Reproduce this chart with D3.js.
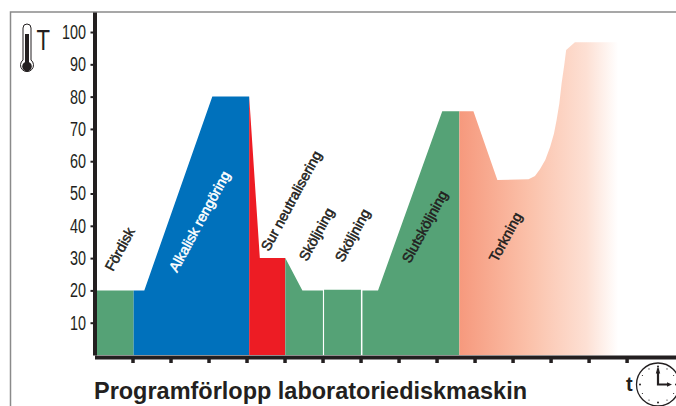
<!DOCTYPE html>
<html>
<head>
<meta charset="utf-8">
<script src="https://cdn.jsdelivr.net/npm/d3@7"></script>
<style>
  html, body { margin: 0; padding: 0; background: #fff; overflow: hidden; }
  svg { display: block; }
  .phase_label { font-family: "Liberation Sans", sans-serif; font-size: 14.2px; font-weight: 400; stroke-width: 0.5px; }
  .tick_label text { font-family: "Liberation Sans", sans-serif; font-size: 20px; fill: #231f20; }
</style>
</head>
<body>
<svg id="chart_svg" width="676" height="406"></svg>
<script>
// time in program ticks, temperature in degrees
const fordisk_t = [0, 1.03];
const fordisk_v = [20, 20];
const alkalisk_t = [1.03, 1.31, 3.1, 4.07];
const alkalisk_v = [20, 20, 80, 80];
const sur_t = [4.07, 4.35, 5.02];
const sur_v = [80, 30, 30];
const skolj1_t = [5.02, 5.47, 6.01];
const skolj1_v = [30, 20, 20];
const skolj2_t = [6.04, 7.01];
const skolj2_v = [20.2, 20.2];
const slut_t = [7.05, 7.46, 9.15, 9.6];
const slut_v = [20, 20, 75.5, 75.5];
const tork_t = [9.6, 9.97, 10.6, 11.42, 11.59, 11.72, 11.86, 11.99, 12.09, 12.16, 12.23, 12.29, 12.36, 12.41, 12.64, 13.78];
const tork_v = [75.5, 75.5, 54.2, 54.4, 55.4, 57.5, 60.4, 64.5, 68.6, 72.8, 77.9, 84.1, 89.8, 94.4, 96.8, 96.8];

const y_ticks = [10, 20, 30, 40, 50, 60, 70, 80, 90, 100];
const x_ticks = [1, 2, 3, 4, 5, 6, 7, 8, 9, 10, 11, 12, 13, 14];
const phase_names = ['Fördisk', 'Alkalisk rengöring', 'Sur neutralisering', 'Sköljning', 'Sköljning', 'Slutsköljning', 'Torkning'];
const title_text = 'Programförlopp laboratoriediskmaskin';

const ink = '#231f20';
const svg = d3.select('#chart_svg');

const xScale = d3.scaleLinear().domain([0, 15.3]).range([94.5, 676]);
const yScale = d3.scaleLinear().domain([0, 106.2]).range([355, 12]);

/**
 * Frame lines
 */
svg.append('path')
    .attr('d', 'M10.5,406V12H676')
    .attr('fill', 'none')
    .attr('stroke', '#8a8a8a')
    .attr('stroke-width', 1.5);

/**
 * Fade of the drying phase
 */
const defs = svg.append('defs');
const fade = defs.append('linearGradient')
    .attr('id', 'fade_torkning')
    .attr('gradientUnits', 'userSpaceOnUse')
    .attr('x1', xScale(9.6)).attr('x2', xScale(13.78))
    .attr('y1', 0).attr('y2', 0);
fade.append('stop').attr('offset', 0).attr('stop-color', '#f6997d');
fade.append('stop').attr('offset', 0.45).attr('stop-color', '#fbc2ab');
fade.append('stop').attr('offset', 0.8).attr('stop-color', '#fde0d4');
fade.append('stop').attr('offset', 1).attr('stop-color', '#ffffff');

/**
 * Phase areas
 */
const area = d3.area()
    .x((d) => xScale(d[0]))
    .y0(yScale(0))
    .y1((d) => yScale(d[1]));

const phases = [
    [fordisk_t, fordisk_v, '#55a276'],
    [alkalisk_t, alkalisk_v, '#0071bc'],
    [sur_t, sur_v, '#ed1c24'],
    [skolj1_t, skolj1_v, '#55a276'],
    [skolj2_t, skolj2_v, '#55a276'],
    [slut_t, slut_v, '#55a276'],
    [tork_t, tork_v, 'url(#fade_torkning)'],
];

svg.append('g')
    .selectAll('path')
    .data(phases)
    .enter()
    .append('path')
    .attr('d', (d) => area(d3.zip(d[0], d[1])))
    .attr('fill', (d) => d[2]);

/**
 * Axes
 */
const y_axis = d3.axisLeft(yScale).tickValues(y_ticks).tickSize(4).tickPadding(4.5).tickSizeOuter(0);
const g_y = svg.append('g').attr('class', 'tick_label').attr('transform', 'translate(94.5,0)').call(y_axis);
g_y.select('.domain').attr('stroke', ink).attr('stroke-width', 4);
g_y.selectAll('.tick line').attr('stroke', ink).attr('stroke-width', 2);
// the tick font is a condensed one, so squeeze the digits
g_y.selectAll('.tick text')
    .attr('textLength', (d) => String(d).length * 8)
    .attr('lengthAdjust', 'spacingAndGlyphs');

const x_axis = d3.axisBottom(xScale).tickValues(x_ticks).tickSize(6).tickFormat('').tickSizeOuter(0);
const g_x = svg.append('g').attr('transform', 'translate(0,357)').call(x_axis);
g_x.select('.domain').attr('stroke', ink).attr('stroke-width', 4);
g_x.selectAll('.tick line').attr('stroke', ink).attr('stroke-width', 3.5);

/**
 * Rotated phase labels
 */
const label_pos = [[113, 272, '#231f20'], [177, 273, '#ffffff'], [269, 252, '#231f20'], [307, 262, '#231f20'], [343, 263, '#231f20'], [410, 264, '#231f20'], [497, 263, '#231f20']];

svg.append('g')
    .selectAll('text')
    .data(phase_names)
    .enter()
    .append('text')
    .attr('class', 'phase_label')
    .attr('transform', (d, i) => `translate(${label_pos[i][0]},${label_pos[i][1]}) rotate(-61.5)`)
    .attr('fill', (d, i) => label_pos[i][2])
    .attr('stroke', (d, i) => label_pos[i][2])
    .text((d) => d);

/**
 * Title and the t / T letters
 */
svg.append('text')
    .attr('x', 94)
    .attr('y', 399)
    .attr('font-family', '"Liberation Sans", sans-serif')
    .attr('font-weight', 700)
    .attr('font-size', 23)
    .attr('textLength', 433)
    .attr('lengthAdjust', 'spacingAndGlyphs')
    .attr('fill', ink)
    .text(title_text);

svg.append('text')
    .attr('x', 626)
    .attr('y', 391)
    .attr('font-family', '"Liberation Sans", sans-serif')
    .attr('font-weight', 700)
    .attr('font-size', 20)
    .attr('fill', ink)
    .text('t');

svg.append('text')
    .attr('x', 36.5)
    .attr('y', 50)
    .attr('font-family', '"Liberation Sans", sans-serif')
    .attr('font-size', 30)
    .attr('textLength', 13.5)
    .attr('lengthAdjust', 'spacingAndGlyphs')
    .attr('fill', ink)
    .text('T');

/**
 * Thermometer icon
 */
const g_thermo = svg.append('g').attr('fill', 'none').attr('stroke', ink);
g_thermo.append('path')
    .attr('d', 'M23,60V28a4,4 0 0 1 8,0V60a6.5,6.5 0 1 1 -8,0Z')
    .attr('stroke-width', 1);
g_thermo.append('rect')
    .attr('x', 25).attr('y', 34).attr('width', 4).attr('height', 30)
    .attr('fill', ink).attr('stroke', 'none');
g_thermo.append('circle')
    .attr('cx', 27).attr('cy', 66.5).attr('r', 4.8)
    .attr('fill', ink).attr('stroke', 'none');

/**
 * Clock icon
 */
const g_clock = svg.append('g').attr('transform', 'translate(658,384.5)');
g_clock.append('circle').attr('r', 21.5).attr('fill', '#fff').attr('stroke', ink).attr('stroke-width', 1.3);
g_clock.selectAll('.clock_mark')
    .data(d3.range(12))
    .enter()
    .append('circle')
    .attr('class', 'clock_mark')
    .attr('r', (d) => (d % 3 === 0 ? 1 : 0.6))
    .attr('cx', (d) => 18 * Math.sin(d * Math.PI / 6))
    .attr('cy', (d) => -18 * Math.cos(d * Math.PI / 6))
    .attr('fill', ink);
g_clock.append('path').attr('d', 'M0,1V-16M-1,0H11').attr('stroke', ink).attr('stroke-width', 2.2).attr('fill', 'none');
g_clock.append('path').attr('d', 'M0,-18L-2.2,-11H2.2ZM14,0L9,-2.2V2.2Z').attr('fill', ink);
</script>
</body>
</html>
